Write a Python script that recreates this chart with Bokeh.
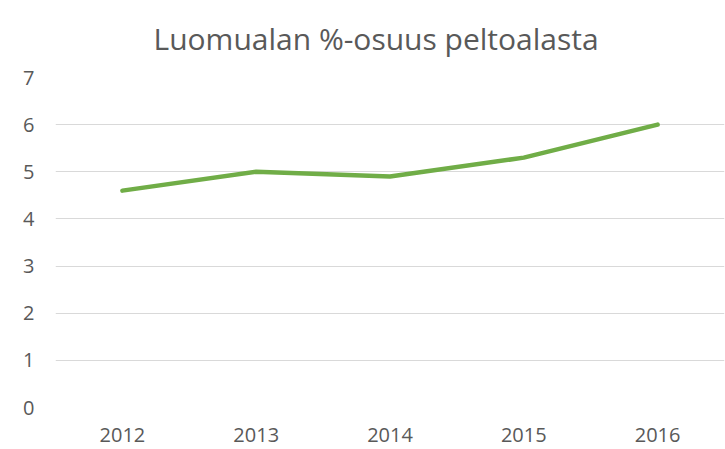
from bokeh.plotting import figure
from bokeh.models import FactorRange, Range1d, FixedTicker
from bokeh.embed import file_html
from bokeh.resources import INLINE

years = ["2012", "2013", "2014", "2015", "2016"]
share = [4.6, 5.0, 4.9, 5.3, 6.0]
y_ticks = [0, 1, 2, 3, 4, 5, 6, 7]

TXT = "#595959"
FONT = "Open Sans"

p = figure(width=725, height=449, x_range=FactorRange(*years), y_range=Range1d(0, 7),
           output_backend="svg", toolbar_location=None,
           title="Luomualan %-osuus peltoalasta",
           min_border_left=55, min_border_right=1, min_border_top=77, min_border_bottom=42)
p.title.align = "left"
p.title.offset = 98
p.title.standoff = 33
p.title.vertical_align = "top"
p.title.text_font = FONT
p.title.text_font_size = "30px"
p.title.text_font_style = "normal"
p.title.text_color = TXT

p.line(years, share, line_color="#70AD47", line_width=4.5, line_cap="round", line_join="round")

p.yaxis.ticker = FixedTicker(ticks=y_ticks)
for ax in (p.xaxis[0], p.yaxis[0]):
    ax.axis_line_color = None
    ax.major_tick_line_color = None
    ax.minor_tick_line_color = None
    ax.major_label_text_font = FONT
    ax.major_label_text_font_size = "20px"
    ax.major_label_text_color = TXT
p.yaxis.major_label_standoff = 15
p.xaxis.major_label_standoff = 14
p.xgrid.grid_line_color = None
p.ygrid.grid_line_color = "#d9d9d9"
p.ygrid.grid_line_width = 1
p.outline_line_color = None
p.x_range.range_padding = 0

open("out.html", "w").write(file_html(p, INLINE))
